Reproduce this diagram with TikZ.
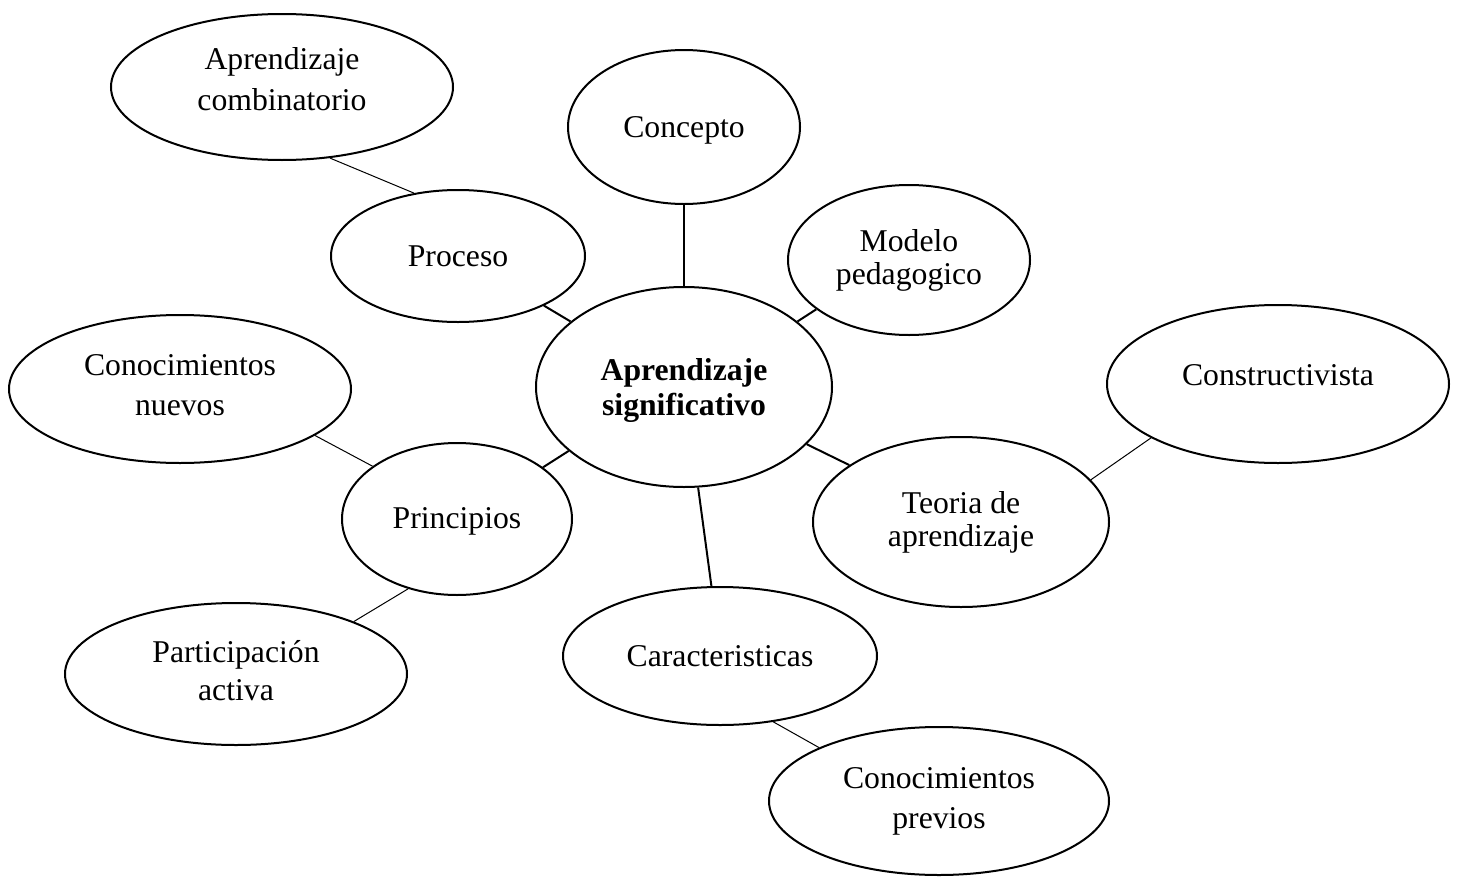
\documentclass[tikz,border=0pt]{standalone}
\usepackage{fontspec}
\setmainfont{Liberation Serif}
\usetikzlibrary{shapes.geometric, positioning}
\definecolor{LineColor}{RGB}{0, 0, 0}
\tikzset{
    idea/.style={
        draw=LineColor,
        line width=1pt,
        ellipse,
        align=center,
        inner sep=0pt,
        font=\fontsize{15.85pt}{16.5pt}\selectfont
    },
    wide/.style={
        font=\fontsize{15.85pt}{#1}\selectfont
    },
    hub/.style={
        idea,
        font=\fontsize{15.85pt}{17.5pt}\selectfont\bfseries
    },
    link/.style={draw=LineColor, line width=1pt},
    sublink/.style={draw=LineColor, line width=0.5pt}
}
\begin{document}
\begin{tikzpicture}[x=0.5pt, y=-0.5pt]

    \useasboundingbox (0,0) rectangle (1462,878);

    % ============================================================================
    % NODES
    % ============================================================================

    % Central idea
    \node[hub, minimum width=148pt, minimum height=100pt, text depth=0pt] (Significativo) at (684,387)
        {Aprendizaje\\significativo};

    % Upper ring
    \node[idea, minimum width=116pt, minimum height=77pt, text depth=0pt] (Concepto) at (684,127) {Concepto};
    \node[idea, minimum width=127pt, minimum height=66pt] (Proceso) at (458,256) {Proceso};
    \node[idea, minimum width=121pt, minimum height=75pt] (Modelo) at (909,260) {Modelo\\pedagogico};
    \node[idea, wide=20.5pt, minimum width=171pt, minimum height=73pt, text depth=7.5pt] (Combinatorio) at (282,87)
        {Aprendizaje\\combinatorio};

    % Lower ring
    \node[idea, minimum width=115pt, minimum height=76pt, text depth=1pt] (Principios) at (457,519) {Principios};
    \node[idea, minimum width=148pt, minimum height=85pt] (Teoria) at (961,522) {Teoria de\\aprendizaje};
    \node[idea, minimum width=157pt, minimum height=69pt] (Caracteristicas) at (720,656) {Caracteristicas};

    % Outer leaves
    \node[idea, wide=20pt, minimum width=171pt, minimum height=74pt, text depth=4pt] (Nuevos) at (180,389)
        {Conocimientos\\nuevos};
    \node[idea, minimum width=171pt, minimum height=79pt, text depth=9pt] (Constructivista) at (1278,384) {Constructivista};
    \node[idea, wide=19pt, minimum width=171pt, minimum height=71pt, text depth=4pt] (Participacion) at (236,674)
        {Participación\\activa};
    \node[idea, wide=20pt, minimum width=170pt, minimum height=74pt] (Previos) at (939,801) {Conocimientos\\previos};

    % ============================================================================
    % LINKS
    % ============================================================================

    % Central idea to the ring
    \draw[link] (Concepto.south) -- (Significativo.north);
    \draw[link] (Proceso.-30) -- (Significativo.150.5);
    \draw[link] (Modelo.208.5) -- (Significativo.30);
    \draw[link] (Significativo.209.7) -- (Principios.31);
    \draw[link] (Significativo.-25.6) -- (Teoria.153.6);
    \draw[link] (Significativo.-82.6) -- (Caracteristicas.97.4);

    % Ring to the leaves
    \draw[sublink] (Combinatorio.-56.3) -- (Proceso.125.9);
    \draw[sublink] (Nuevos.-19.6) -- (Principios.148.6);
    \draw[sublink] (Principios.235.8) -- (Participacion.24.8);
    \draw[sublink] (Constructivista.203.7) -- (Teoria.18.2);
    \draw[sublink] (Caracteristicas.-51.3) -- (Previos.156.3);

\end{tikzpicture}
\end{document}
